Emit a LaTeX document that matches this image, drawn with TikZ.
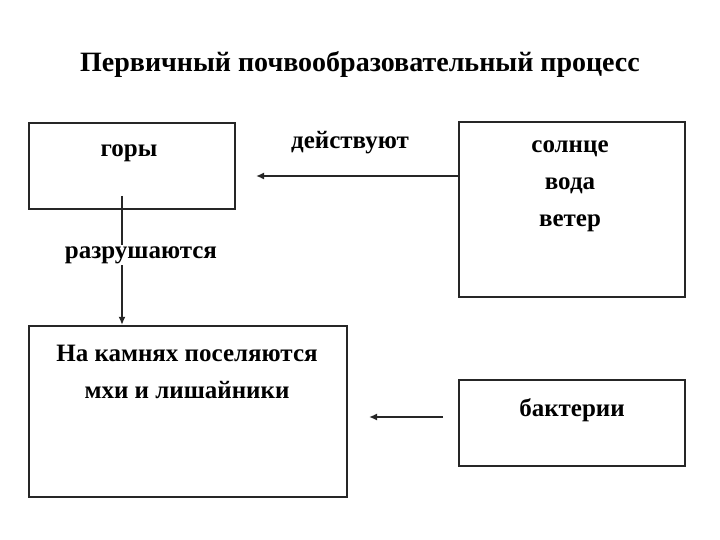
\documentclass[tikz,border=0pt]{standalone}
\usepackage{fontspec}
\setmainfont{Liberation Serif}
\usepackage{tikz}
\usetikzlibrary{arrows.meta}
\tikzstyle{box} = [draw=black!85, line width=2.2pt, fill=white, rectangle, inner sep=0pt]
\tikzstyle{txt} = [font={\fontsize{25}{37}\selectfont\bfseries}, align=center, inner sep=0pt]
\tikzstyle{lbl} = [txt, fill=white, inner sep=1pt]
\tikzstyle{arr} = [-{Latex[length=8pt,width=7pt]}, line width=1.6pt, black!85]

\begin{document}
\begin{tikzpicture}[x=1pt,y=-1pt]
    \useasboundingbox (0,0) rectangle (720,540);
    \node[font={\fontsize{28}{32}\selectfont\bfseries}](title) at (360,64){Первичный почвообразовательный процесс};
    \node[box,minimum width=206pt,minimum height=86pt](gory) at (132,166){};
    \node[box,minimum width=226pt,minimum height=175pt](sun) at (572,209.5){};
    \node[box,minimum width=318pt,minimum height=171pt](mosses) at (188,411.5){};
    \node[box,minimum width=226pt,minimum height=86pt](bact) at (572,423){};
    \node[txt](goryt) at (129,153){горы};
    \node[txt](sunt) at (570,186){солнце\\вода\\ветер};
    \node[txt](mossest) at (187,372){На камнях поселяются\\мхи и лишайники};
    \node[txt](bactt) at (572,410){бактерии};
    \coordinate (gtip) at (256,176);
    \coordinate (gstart) at (122,196);
    \coordinate (bfrom) at (443,417);
    \coordinate (btip) at (369,417);
    \draw[arr](sun.west |- gtip)--(gtip);
    \draw[arr](gstart)--(gstart |- mosses.north);
    \draw[arr](bfrom)--(btip);
    \node[lbl](act) at (350,143){действуют};
    \node[lbl](crumble) at (141,255){разрушаются};
  \end{tikzpicture}
\end{document}
